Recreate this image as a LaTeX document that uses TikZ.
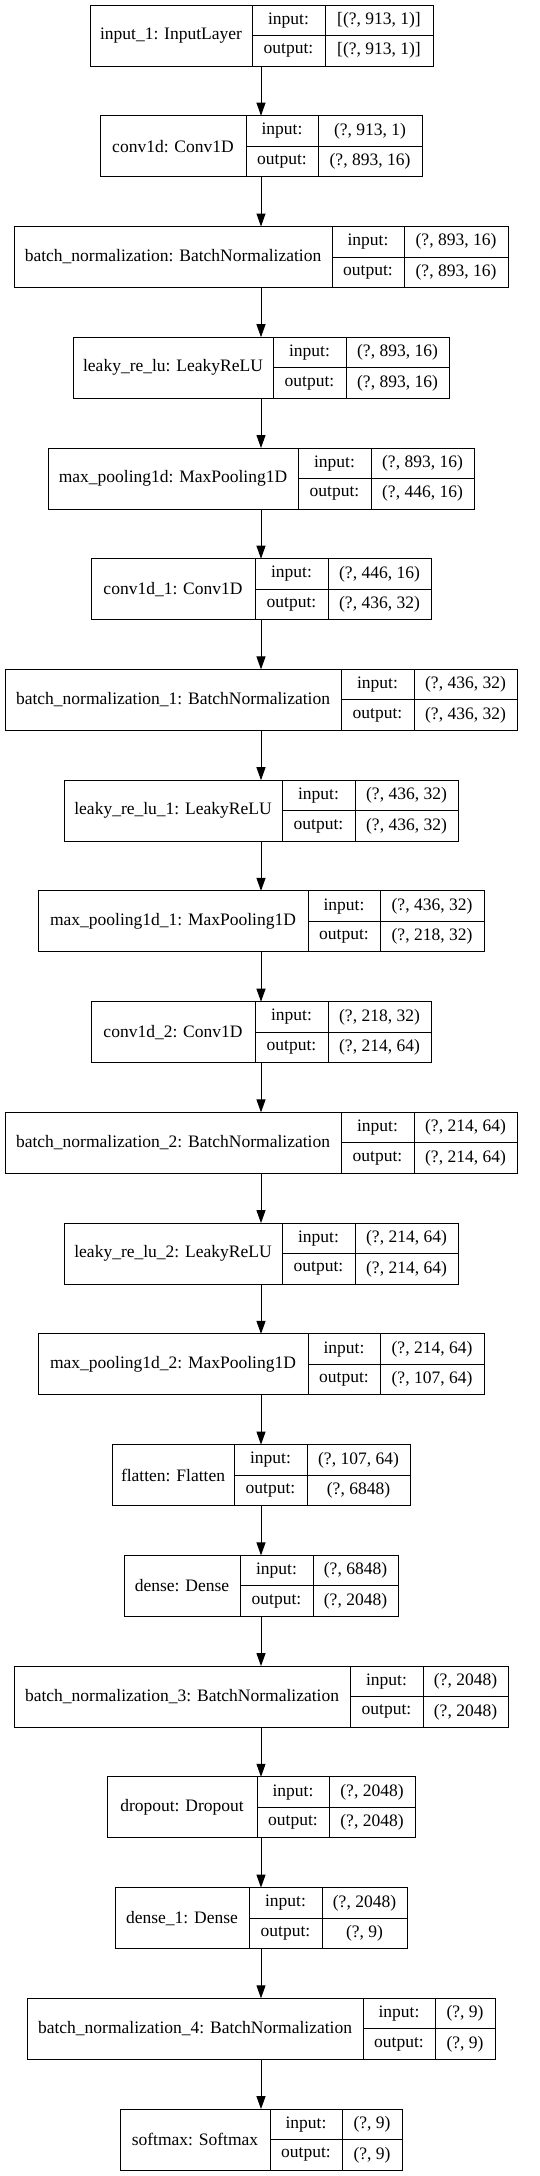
\documentclass[tikz,border=0pt]{standalone}
\usepackage{fontspec}
\setmainfont{Liberation Serif}
\usetikzlibrary{arrows.meta}

\tikzset{
  cell/.style={draw, line width=1pt, inner sep=0pt, outer sep=0pt, anchor=north west,
    font=\fontsize{17.5}{20}\selectfont},
  flow/.style={line width=1pt, -{Triangle[length=13pt,width=9pt]}}
}

% #1 name, #2 top, #3 left, #4 first split, #5 second split, #6 right,
% #7 layer text, #8 input shape, #9 output shape
\newcommand{\layerrec}[9]{%
  \node[cell, minimum width={#4pt-#3pt}, minimum height=61pt] (#1) at (#3,#2) {#7};
  \node[cell, minimum width={#5pt-#4pt}, minimum height=30.5pt] (#1-in) at (#4,#2) {input:};
  \node[cell, minimum width={#6pt-#5pt}, minimum height=30.5pt] (#1-inval) at (#5,#2) {#8};
  \node[cell, minimum width={#5pt-#4pt}, minimum height=30.5pt] (#1-out) at (#4,{#2+30.5}) {output:};
  \node[cell, minimum width={#6pt-#5pt}, minimum height=30.5pt] (#1-outval) at (#5,{#2+30.5}) {#9};
  \coordinate (#1-top) at (261,#2);
  \coordinate (#1-bot) at (261,{#2+61});
}

\begin{document}
\begin{tikzpicture}[x=1pt,y=-1pt]
  \useasboundingbox (0,0) rectangle (539,2176);

  \layerrec{in}{5}{90}{252}{325}{433}{input\_1: InputLayer}{[(?, 913, 1)]}{[(?, 913, 1)]}
  \layerrec{conv}{115.7}{100}{246}{318}{422}{conv1d: Conv1D}{(?, 913, 1)}{(?, 893, 16)}
  \layerrec{bn}{226.5}{14}{332}{404}{508}{batch\_normalization: BatchNormalization}{(?, 893, 16)}{(?, 893, 16)}
  \layerrec{relu}{337.2}{73}{273}{346}{449}{leaky\_re\_lu: LeakyReLU}{(?, 893, 16)}{(?, 893, 16)}
  \layerrec{pool}{448}{48}{298}{371}{474}{max\_pooling1d: MaxPooling1D}{(?, 893, 16)}{(?, 446, 16)}
  \layerrec{convA}{558.7}{91}{255}{328}{431}{conv1d\_1: Conv1D}{(?, 446, 16)}{(?, 436, 32)}
  \layerrec{bnA}{669.4}{5}{341}{414}{517}{batch\_normalization\_1: BatchNormalization}{(?, 436, 32)}{(?, 436, 32)}
  \layerrec{reluA}{780.2}{64}{282}{355}{458}{leaky\_re\_lu\_1: LeakyReLU}{(?, 436, 32)}{(?, 436, 32)}
  \layerrec{poolA}{890.9}{38}{308}{380}{484}{max\_pooling1d\_1: MaxPooling1D}{(?, 436, 32)}{(?, 218, 32)}
  \layerrec{convB}{1001.7}{91}{255}{328}{431}{conv1d\_2: Conv1D}{(?, 218, 32)}{(?, 214, 64)}
  \layerrec{bnB}{1112.4}{5}{341}{414}{517}{batch\_normalization\_2: BatchNormalization}{(?, 214, 64)}{(?, 214, 64)}
  \layerrec{reluB}{1223.1}{64}{282}{355}{458}{leaky\_re\_lu\_2: LeakyReLU}{(?, 214, 64)}{(?, 214, 64)}
  \layerrec{poolB}{1333.9}{38}{308}{380}{484}{max\_pooling1d\_2: MaxPooling1D}{(?, 214, 64)}{(?, 107, 64)}
  \layerrec{flat}{1444.6}{112}{234}{307}{410}{flatten: Flatten}{(?, 107, 64)}{(?, 6848)}
  \layerrec{dense}{1555.4}{124}{240}{313}{398}{dense: Dense}{(?, 6848)}{(?, 2048)}
  \layerrec{bnC}{1666.1}{14}{350}{423}{508}{batch\_normalization\_3: BatchNormalization}{(?, 2048)}{(?, 2048)}
  \layerrec{drop}{1776.8}{107}{257}{329}{415}{dropout: Dropout}{(?, 2048)}{(?, 2048)}
  \layerrec{denseA}{1887.6}{115}{249}{322}{407}{dense\_1: Dense}{(?, 2048)}{(?, 9)}
  \layerrec{bnD}{1998.3}{27}{363}{435}{495}{batch\_normalization\_4: BatchNormalization}{(?, 9)}{(?, 9)}
  \layerrec{soft}{2109.1}{120}{270}{342}{402}{softmax: Softmax}{(?, 9)}{(?, 9)}

  % arrows between layers
  \foreach \a/\b in {in/conv, conv/bn, bn/relu, relu/pool, pool/convA, convA/bnA,
      bnA/reluA, reluA/poolA, poolA/convB, convB/bnB, bnB/reluB, reluB/poolB,
      poolB/flat, flat/dense, dense/bnC, bnC/drop, drop/denseA, denseA/bnD, bnD/soft}
    \draw[flow] (\a-bot) -- (\b-top);
\end{tikzpicture}
\end{document}
